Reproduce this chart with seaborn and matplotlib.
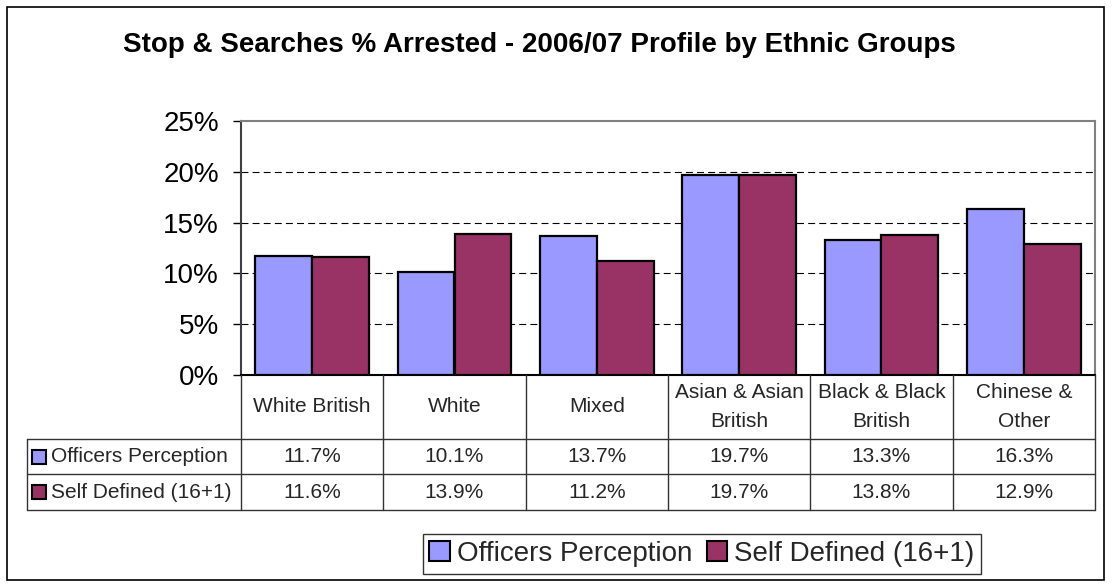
import matplotlib
matplotlib.use('Agg')
import pandas as pd
import matplotlib.pyplot as plt
import matplotlib.transforms as mtransforms
from matplotlib.patches import Rectangle, Patch
from matplotlib.lines import Line2D
from matplotlib.ticker import PercentFormatter
import seaborn as sns

# chart data
groups = ['White British', 'White', 'Mixed', 'Asian & Asian\nBritish',
          'Black & Black\nBritish', 'Chinese &\nOther']
series_names = ['Officers Perception', 'Self Defined (16+1)']
officers = [11.7, 10.1, 13.7, 19.7, 13.3, 16.3]
self_defined = [11.6, 13.9, 11.2, 19.7, 13.8, 12.9]
colors = ['#9999FF', '#993366']
y_ticks = [0, 5, 10, 15, 20, 25]
title = 'Stop & Searches % Arrested - 2006/07 Profile by Ethnic Groups'

W, H = 1112, 587

sns.set_style('white')
plt.rcParams['font.family'] = ['Liberation Sans', 'DejaVu Sans']
plt.rcParams['lines.scale_dashes'] = False

df = pd.DataFrame({
    'Group': groups * 2,
    'Series': [series_names[0]] * len(groups) + [series_names[1]] * len(groups),
    'Value': officers + self_defined,
})


def fx(px):
    return px / W


def fy(py):
    return 1 - py / H


fig = plt.figure(figsize=(W / 100, H / 100), dpi=100)

# outer chart border
fig.patches.append(Rectangle((fx(7), fy(580)), fx(1104) - fx(7), fy(7) - fy(580),
                             transform=fig.transFigure, fill=False,
                             edgecolor='black', linewidth=1.2))

fig.text(fx(539), fy(45), title, ha='center', va='center',
         fontsize=20, fontweight='bold', color='black')

ax = fig.add_axes([fx(241), fy(375), fx(1095) - fx(241), fy(121) - fy(375)])
sns.barplot(data=df, x='Group', y='Value', hue='Series', palette=colors,
            edgecolor='black', linewidth=1.6, width=0.8, saturation=1,
            errorbar=None, legend=False, ax=ax, zorder=3)

ax.set_ylim(0, 25)
ax.set_xlim(-0.5, len(groups) - 0.5)
for t in y_ticks[1:-1]:
    ax.axhline(t, color='black', linewidth=0.8, linestyle=(0, (5, 3)), zorder=1)

ax.set_yticks(y_ticks)
ax.yaxis.set_major_formatter(PercentFormatter(xmax=100, decimals=0))
ax.tick_params(axis='y', direction='out', length=6, width=1, labelsize=20,
               pad=10, left=True, colors='black')
ax.tick_params(axis='x', bottom=False, labelbottom=False)
ax.set_xlabel('')
ax.set_ylabel('')

ax.spines['top'].set_color('#808080')
ax.spines['right'].set_color('#808080')
ax.spines['left'].set_color('#404040')
ax.spines['bottom'].set_color('black')
for s in ax.spines.values():
    s.set_linewidth(1.5)

# data table under the chart
bt = mtransforms.blended_transform_factory(ax.transData, fig.transFigure)
line_kw = dict(color='#333333', linewidth=1)
for k in range(len(groups) + 1):
    fig.add_artist(Line2D([k - 0.5, k - 0.5], [fy(375), fy(510)], transform=bt, **line_kw))
for py in [439, 474, 510]:
    fig.add_artist(Line2D([fx(27), fx(1095)], [fy(py), fy(py)], transform=fig.transFigure, **line_kw))
fig.add_artist(Line2D([fx(27), fx(27)], [fy(439), fy(510)], transform=fig.transFigure, **line_kw))

rows = [officers, self_defined]
row_y = [457, 492]
for i, g in enumerate(groups):
    fig.text(i, fy(407), g, transform=bt, ha='center', va='center',
             fontsize=15, linespacing=1.65)
    for vals, py in zip(rows, row_y):
        fig.text(i, fy(py), f'{vals[i]:.1f}%', transform=bt, ha='center',
                 va='center', fontsize=15)

for name, col, py in zip(series_names, colors, row_y):
    fig.patches.append(Rectangle((fx(32), fy(py + 7)), fx(14), fy(py - 7) - fy(py + 7),
                                 transform=fig.transFigure, facecolor=col,
                                 edgecolor='black', linewidth=1.5))
    fig.text(fx(51), fy(py), name, ha='left', va='center', fontsize=15)

# legend
handles = [Patch(facecolor=c, edgecolor='black', linewidth=1.5) for c in colors]
leg = fig.legend(handles, series_names, loc='center',
                 bbox_to_anchor=(fx(702), fy(554)), ncol=2, fontsize=20,
                 frameon=True, fancybox=False, edgecolor='black',
                 handlelength=0.75, handleheight=0.75, handletextpad=0.25,
                 columnspacing=0.5, borderpad=0.25, borderaxespad=0)
leg.get_frame().set_linewidth(1)

fig.savefig('out.png', dpi=100)
